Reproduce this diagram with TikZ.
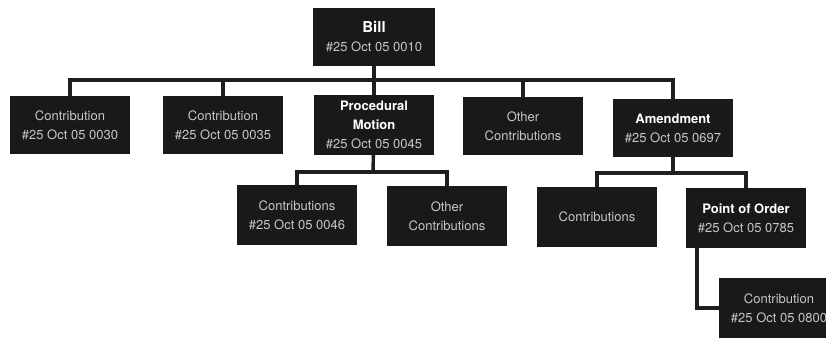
\documentclass[tikz,border=0pt]{standalone}
\usepackage{fontspec}
\setmainfont{TeX Gyre Heros}
\newcommand{\headtxt}[1]{\textcolor{white}{\bfseries #1}}
\begin{document}
\begin{tikzpicture}[
    x=1pt,y=-1pt,
    box/.style={fill=black!90,text=black!22,align=center,inner sep=2pt,
        minimum width=120pt,minimum height=58pt,font=\fontsize{13}{19}\selectfont},
    link/.style={line width=3.4pt,black!88}
]
\clip (0,0) rectangle (826,337);
\fill[white] (0,0) rectangle (826,337);
\node[box,minimum width=122pt] (bill) at (374,37) {\headtxt{\fontsize{15}{19}\selectfont Bill}\\\#25 Oct 05 0010};
\node[box] (contA) at (70,125) {Contribution\\\#25 Oct 05 0030};
\node[box] (contB) at (223,125) {Contribution\\\#25 Oct 05 0035};
\node[box,minimum height=60pt] (proc) at (374,125) {\headtxt{Procedural}\\\headtxt{Motion}\\\#25 Oct 05 0045};
\node[box] (otherA) at (523,126) {Other\\Contributions};
\node[box] (amend) at (673,128) {\headtxt{Amendment}\\\#25 Oct 05 0697};
\node[box,minimum height=60pt] (contC) at (297,215) {Contributions\\\#25 Oct 05 0046};
\node[box,minimum height=60pt] (otherB) at (447,216) {Other\\Contributions};
\node[box,minimum height=60pt] (contD) at (597,217) {Contributions};
\node[box,minimum height=60pt] (order) at (746,218) {\headtxt{Point of Order}\\\#25 Oct 05 0785};
\node[box,minimum height=60pt] (contE) at (779,308) {Contribution\\\#25 Oct 05 0800};
% buses
\coordinate (busA) at (374,80);
\coordinate (busB) at (373,172);
\coordinate (busC) at (673,173);
\coordinate (orderDrop) at ([xshift=11pt]order.south west);
\draw[link] (bill) -- (busA);
\foreach \n in {contA,contB,proc,otherA,amend}
  \draw[link] (busA) -| (\n);
\draw[link] (proc) -- (busB);
\foreach \n in {contC,otherB}
  \draw[link] (busB) -| (\n);
\draw[link] (amend) -- (busC);
\foreach \n in {contD,order}
  \draw[link] (busC) -| (\n);
\draw[link] (orderDrop) |- (contE);
\end{tikzpicture}
\end{document}
